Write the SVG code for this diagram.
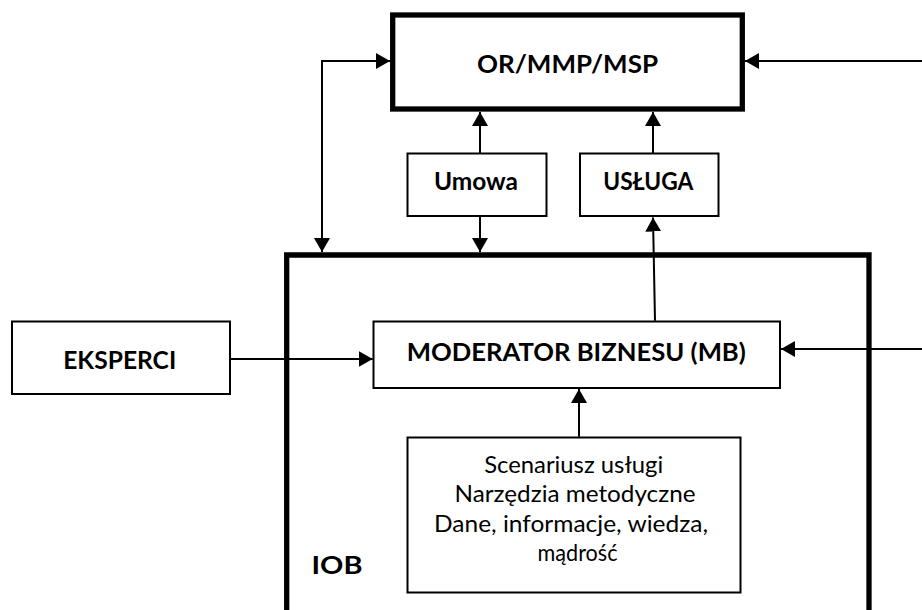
<svg xmlns="http://www.w3.org/2000/svg" width="922" height="610" viewBox="0 0 922 610">
<style>
.box{fill:#fff;stroke:#000;stroke-width:2}
.thick{fill:none;stroke:#000;stroke-width:5.3}
.b{font-family:Lato,"Liberation Sans",sans-serif;font-weight:bold;font-size:25.5px;fill:#000;text-anchor:middle}
.r{font-family:Lato,"Liberation Sans",sans-serif;font-size:24px;fill:#000;text-anchor:middle}
.c{fill:none;stroke:#000;stroke-width:2}
</style>
<defs>
<marker id="ah" markerUnits="userSpaceOnUse" markerWidth="15" markerHeight="16" refX="14" refY="8" orient="auto-start-reverse" viewBox="0 0 15 16">
<path d="M0,0 L14,8 L0,16 z" fill="#000"/>
</marker>
</defs>
<g id="iob">
<path class="thick" d="M286.7,620 L286.7,255 L869,255 L869,620"/>
<text class="b" x="337" y="574" font-size="31" textLength="51" lengthAdjust="spacingAndGlyphs">IOB</text>
</g>
<g id="or">
<rect class="thick" x="392.7" y="15" width="349.6" height="94" fill="#fff"/>
<text class="b" x="567.5" y="73" textLength="181" lengthAdjust="spacingAndGlyphs">OR/MMP/MSP</text>
</g>
<g id="umowa">
<rect class="box" x="407.5" y="153.5" width="139" height="62.5"/>
<text class="b" x="476" y="190" textLength="84" lengthAdjust="spacingAndGlyphs">Umowa</text>
</g>
<g id="usluga">
<rect class="box" x="580" y="153.5" width="138.5" height="62.5"/>
<text class="b" x="648.3" y="190" textLength="90" lengthAdjust="spacingAndGlyphs">USŁUGA</text>
</g>
<g id="eksperci">
<rect class="box" x="12" y="321.5" width="218" height="72.5"/>
<text class="b" x="119.7" y="369" textLength="113" lengthAdjust="spacingAndGlyphs">EKSPERCI</text>
</g>
<g id="mb">
<rect class="box" x="373.5" y="321.5" width="406.5" height="66.5"/>
<text class="b" x="576.3" y="361" textLength="339" lengthAdjust="spacingAndGlyphs">MODERATOR BIZNESU (MB)</text>
</g>
<g id="scenariusz">
<rect class="box" x="407.5" y="437.5" width="333" height="155"/>
<text class="r" x="573.7" y="473" textLength="179" lengthAdjust="spacingAndGlyphs">Scenariusz usługi</text>
<text class="r" x="575" y="502" textLength="241" lengthAdjust="spacingAndGlyphs">Narzędzia metodyczne</text>
<text class="r" x="571" y="531.5" textLength="274" lengthAdjust="spacingAndGlyphs">Dane, informacje, wiedza,</text>
<text class="r" x="577.5" y="560.5" textLength="80" lengthAdjust="spacingAndGlyphs">mądrość</text>
</g>
<g id="connectors">
<path class="c" d="M922,61 L745,61" marker-end="url(#ah)"/>
<path class="c" d="M322,252 L322,61 L390,61" marker-start="url(#ah)" marker-end="url(#ah)"/>
<path class="c" d="M480,153 L480,112" marker-end="url(#ah)"/>
<path class="c" d="M480,216.7 L480,252" marker-end="url(#ah)"/>
<path class="c" d="M653,153 L653,112" marker-end="url(#ah)"/>
<path class="c" d="M655,320.7 L653,217.5" marker-end="url(#ah)"/>
<path class="c" d="M231,359 L372.7,359" marker-end="url(#ah)"/>
<path class="c" d="M922,349 L781,349" marker-end="url(#ah)"/>
<path class="c" d="M579,436.7 L579,389" marker-end="url(#ah)"/>
</g>
</svg>
